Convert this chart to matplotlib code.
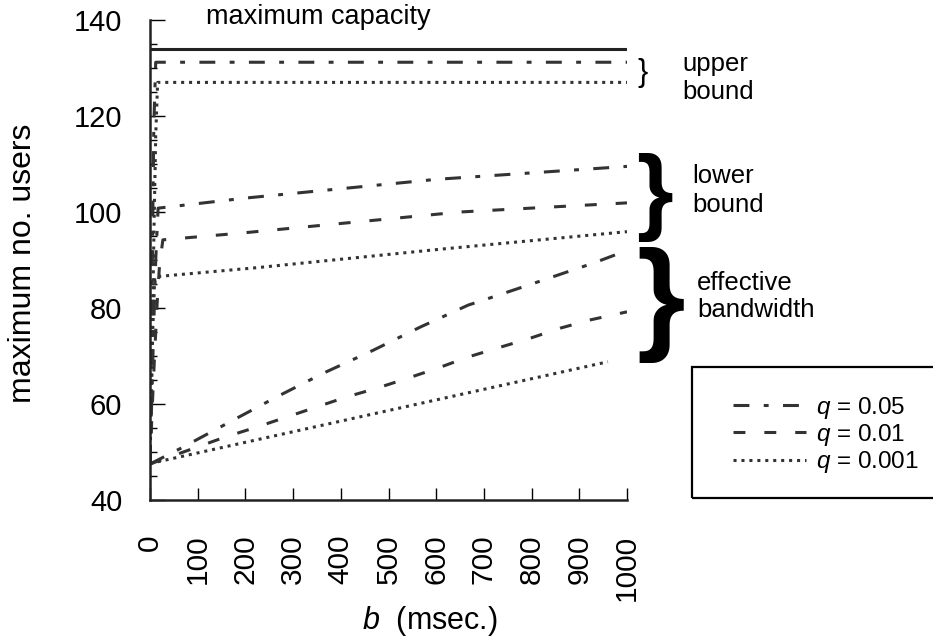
import matplotlib
matplotlib.use('Agg')
import matplotlib.pyplot as plt
from matplotlib.ticker import MultipleLocator
from matplotlib.patches import Rectangle

plt.rcParams['font.family'] = ['Liberation Sans', 'DejaVu Sans']
plt.rcParams['mathtext.fontset'] = 'custom'
plt.rcParams['mathtext.it'] = 'Liberation Sans:italic'
plt.rcParams['mathtext.rm'] = 'Liberation Sans'

# ---------------- data ----------------
cap_b = [0, 1000]
cap_v = [134.0, 134.0]

ub005_b = [0, 2, 4, 6, 8, 12, 1000]
ub005_v = [47.5, 62, 80, 100, 118, 131.2, 131.2]
ub0001_b = [0, 3, 6, 9, 12, 16, 1000]
ub0001_v = [47.5, 64, 82, 100, 116, 127.0, 127.0]

lb005_b = [0, 4, 8, 12, 17, 200, 600, 1000]
lb005_v = [47.5, 62, 77, 90, 100.8, 102.9, 106.8, 109.5]
lb001_b = [0, 5, 10, 15, 20, 27, 190, 650, 1000]
lb001_v = [47.5, 60, 71, 81, 89, 94.2, 95.6, 100.0, 101.9]
lb0001_b = [0, 3, 6, 10, 224, 614, 1000]
lb0001_v = [47.5, 62, 76, 86.5, 88.4, 92.3, 95.9]

eb005_b = [0, 69, 168, 266, 363, 468, 566, 667, 719, 776, 824, 880, 931, 1000]
eb005_v = [47.5, 51.0, 56.3, 61.5, 66.4, 71.2, 76.0, 80.6, 82.3, 84.2, 85.8, 87.7, 89.4, 92.0]
eb001_b = [0, 157, 224, 287, 350, 413, 476, 541, 604, 667, 730, 797, 860, 922, 1000]
eb001_v = [47.5, 53.1, 55.2, 57.3, 59.4, 61.5, 63.3, 65.4, 67.5, 69.8, 71.7, 73.7, 75.8, 77.5, 79.2]
eb0001_b = [0, 489, 960]
eb0001_v = [47.6, 58.4, 68.8]

legend_labels = ['$q$ = 0.05', '$q$ = 0.01', '$q$ = 0.001']
x_ticks = [0, 100, 200, 300, 400, 500, 600, 700, 800, 900, 1000]
y_ticks = [40, 60, 80, 100, 120, 140]

# ---------------- figure ----------------
W, H = 933, 640
fig = plt.figure(figsize=(W / 100, H / 100), dpi=100)
ax = fig.add_axes([150 / W, 1 - 500 / H, 477 / W, 480 / H])

col = '#333333'
lw = 2.2
DD = (0, (5.2, 4.7, 1.6, 4.7))
DA = (0, (3.9, 6.2))
DO = (0, (1.0, 1.6))

ax.plot(cap_b, cap_v, color='#222222', lw=lw, ls='-')
ax.plot(ub005_b, ub005_v, color=col, lw=lw, ls=DD)
ax.plot(ub0001_b, ub0001_v, color=col, lw=lw, ls=DO)
ax.plot(lb005_b, lb005_v, color=col, lw=lw, ls=DD)
ax.plot(lb001_b, lb001_v, color=col, lw=lw, ls=DA)
ax.plot(lb0001_b, lb0001_v, color=col, lw=lw, ls=DO)
h1, = ax.plot(eb005_b, eb005_v, color=col, lw=lw, ls=DD)
h2, = ax.plot(eb001_b, eb001_v, color=col, lw=lw, ls=DA)
h3, = ax.plot(eb0001_b, eb0001_v, color=col, lw=lw, ls=DO)

ax.set_xlim(0, 1000)
ax.set_ylim(40, 140)
for s in ['top', 'right']:
    ax.spines[s].set_visible(False)
for s in ['left', 'bottom']:
    ax.spines[s].set_linewidth(1.8)
    ax.spines[s].set_color('#222222')

ax.set_xticks(x_ticks)
ax.set_xticklabels([str(t) for t in x_ticks], rotation=90)
ax.set_yticks(y_ticks)
ax.yaxis.set_minor_locator(MultipleLocator(5))
ax.tick_params(axis='x', direction='in', length=9, width=1.0, pad=25, labelsize=21.5)
ax.tick_params(axis='y', which='major', direction='in', length=11, width=1.0, pad=20, labelsize=21)
ax.tick_params(axis='y', which='minor', direction='in', length=5, width=1.0)

fig.text(23 / W, 1 - 263 / H, 'maximum no. users', rotation=90, ha='center', va='center', fontsize=23)
fig.text(430 / W, 1 - 621 / H, '$b$  (msec.)', ha='center', va='center', fontsize=22)
fig.text(318 / W, 1 - 17 / H, 'maximum capacity', ha='center', va='center', fontsize=19.5)

# braces and annotations
fig.text(637 / W, 1 - 80.5 / H, '}', ha='left', va='baseline', fontsize=22)
fig.text(682 / W, 1 - 64 / H, 'upper', ha='left', va='center', fontsize=18.5)
fig.text(682 / W, 1 - 92 / H, 'bound', ha='left', va='center', fontsize=18.5)

fig.text(636 / W, 1 - 222 / H, '}', ha='left', va='baseline', fontsize=68, fontweight='bold')
fig.text(692 / W, 1 - 176 / H, 'lower', ha='left', va='center', fontsize=18.5)
fig.text(692 / W, 1 - 205 / H, 'bound', ha='left', va='center', fontsize=18.5)

fig.text(636 / W, 1 - 337 / H, '}', ha='left', va='baseline', fontsize=90, fontweight='bold')
fig.text(697 / W, 1 - 283 / H, 'effective', ha='left', va='center', fontsize=18.5)
fig.text(697 / W, 1 - 310 / H, 'bandwidth', ha='left', va='center', fontsize=18.5)

# legend
fig.patches.append(Rectangle((692 / W, 1 - 498 / H), 260 / W, 131 / H,
                             transform=fig.transFigure, fill=False,
                             edgecolor='black', linewidth=1.6))
ax.legend([h1, h2, h3], legend_labels, loc='center',
          bbox_to_anchor=(826 / W, 1 - 435 / H), bbox_transform=fig.transFigure,
          frameon=False, fontsize=17.5, handlelength=3.0, handletextpad=0.4,
          labelspacing=0.05, borderpad=0, borderaxespad=0)

fig.savefig('out.png', dpi=100)
